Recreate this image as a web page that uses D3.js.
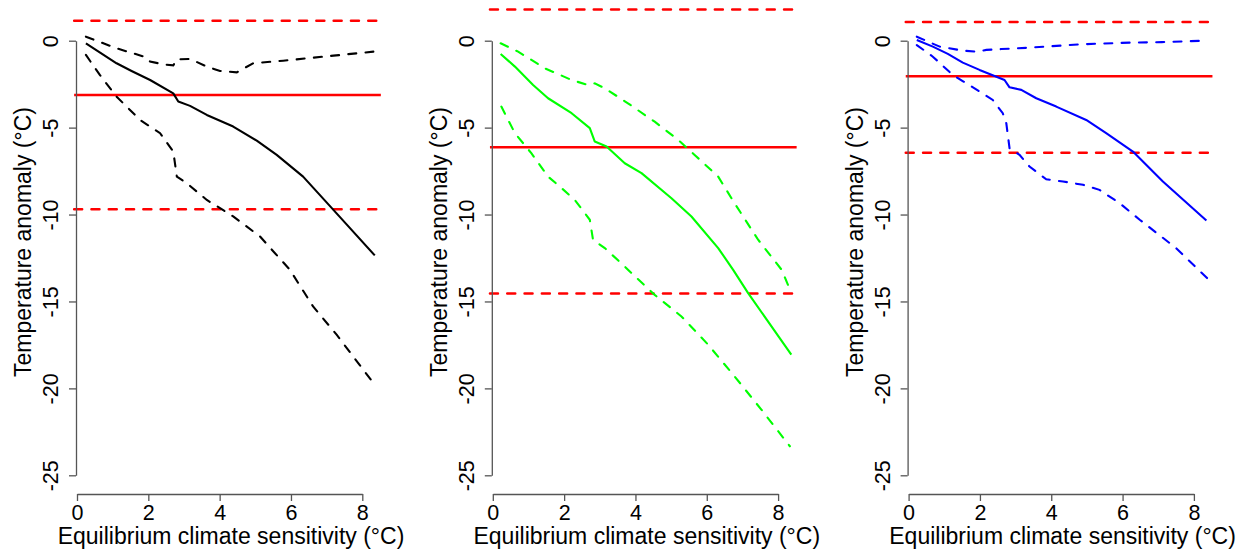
<!DOCTYPE html>
<html>
<head>
<meta charset="utf-8">
<script src="https://cdn.jsdelivr.net/npm/d3@7"></script>
<style>
  body { margin: 0; background: #fff; }
  svg text { font-family: "Liberation Sans", Arial, Helvetica, sans-serif; fill: #000; }
  .axis path, .axis line { stroke: #555; stroke-width: 1.3; }
</style>
</head>
<body>
<div id="chart"></div>
<script>
// --- data (x = ECS in degC, y = anomaly in degC)
var xTicks = [0, 2, 4, 6, 8]
var yTicks = [0, -5, -10, -15, -20, -25]

var p1Mid = [[0.25,-0.15],[1.11,-1.30],[1.53,-1.74],[2.05,-2.26],[2.70,-3.03],[2.84,-3.50],[3.17,-3.75],
  [3.64,-4.27],[4.38,-4.94],[5.04,-5.75],[5.60,-6.57],[6.34,-7.82],[7.19,-9.73],[8.35,-12.35]]
var p1Hi = [[0.25,0.23],[1.11,-0.44],[1.95,-0.96],[2.05,-1.2],[2.42,-1.36],[2.70,-1.42],[2.80,-1.07],
  [3.17,-1.05],[3.64,-1.49],[4.01,-1.74],[4.48,-1.82],[4.94,-1.30],[5.78,-1.15],[7.19,-0.86],[8.31,-0.63]]
var p1Lo = [[0.25,-0.82],[0.64,-1.97],[1.11,-3.22],[1.77,-4.56],[2.33,-5.32],[2.70,-6.38],[2.80,-7.82],
  [3.08,-8.2],[3.64,-9.16],[4.38,-10.11],[5.13,-11.26],[5.97,-13.18],[6.62,-15.29],[7.28,-16.91],[8.31,-19.69]]

var p2Mid = [[0.22,-0.76],[0.62,-1.49],[1.13,-2.55],[1.55,-3.31],[2.21,-4.17],[2.72,-5.03],[2.86,-5.80],
  [3.19,-6.09],[3.70,-7.05],[4.17,-7.62],[5.01,-9.06],[5.57,-10.11],[6.32,-11.93],[6.74,-13.18],
  [7.16,-14.52],[8.37,-18.06]]
var p2Hi = [[0.22,-0.15],[0.71,-0.63],[1.46,-1.59],[2.21,-2.26],[2.67,-2.55],[2.86,-2.45],[3.14,-2.74],
  [3.79,-3.60],[4.54,-4.66],[5.20,-5.71],[5.66,-6.57],[6.32,-7.82],[6.78,-9.35],[7.44,-11.45],
  [8.10,-13.18],[8.33,-14.3]]
var p2Lo = [[0.24,-3.79],[0.62,-5.32],[1.08,-6.47],[1.55,-7.82],[1.93,-8.48],[2.30,-9.16],[2.72,-10.30],
  [2.81,-11.45],[3.14,-11.93],[3.70,-12.99],[3.89,-13.37],[4.54,-14.62],[5.29,-15.86],[6.04,-17.49],
  [6.78,-19.31],[7.53,-21.22],[8.33,-23.33]]

var p3Mid = [[0.23,0.04],[0.68,-0.34],[1.10,-0.76],[1.52,-1.26],[1.99,-1.68],[2.69,-2.26],[2.83,-2.68],
  [3.16,-2.83],[3.58,-3.31],[4.14,-3.79],[4.98,-4.56],[5.54,-5.32],[6.29,-6.38],[7.13,-8.10],[8.35,-10.34]]
var p3Hi = [[0.23,0.23],[0.87,-0.34],[1.52,-0.57],[1.90,-0.63],[2.18,-0.53],[2.6,-0.48],[3.39,-0.40],
  [4.79,-0.21],[6.20,-0.11],[7.1,-0.08],[8.30,0.0]]
var p3Lo = [[0.23,-0.25],[0.68,-0.92],[1.24,-1.97],[1.62,-2.45],[1.99,-2.93],[2.36,-3.41],[2.64,-4.17],
  [2.74,-4.75],[2.83,-6.18],[3.11,-6.57],[3.39,-7.24],[3.86,-7.97],[4.33,-8.10],[4.89,-8.29],[5.35,-8.58],
  [5.92,-9.35],[6.48,-10.30],[7.50,-11.93],[8.39,-13.70]]

// red reference lines: [upper dashed, solid, lower dashed]
var p1Ref = [1.15, -3.12, -9.69]
var p2Ref = [1.8, -6.13, -14.54]
var p3Ref = [1.07, -2.05, -6.45]
var refSpan = [-0.08, 8.52]

var panels = [
  { color: "#000000", mid: p1Mid, hi: p1Hi, lo: p1Lo, ref: p1Ref },
  { color: "#00ff00", mid: p2Mid, hi: p2Hi, lo: p2Lo, ref: p2Ref },
  { color: "#0000ff", mid: p3Mid, hi: p3Hi, lo: p3Lo, ref: p3Ref }
]

var width = 1251, height = 556
var svg = d3.select("#chart").append("svg")
  .attr("width", width)
  .attr("height", height)

panels.forEach(function(p, i) {
  var off = 415.8 * i
    , x = d3.scaleLinear().domain([0, 8]).range([77 + off, 362.3 + off])
    , y = d3.scaleLinear().domain([0, -25]).range([40.7, 475.3])
    , g = svg.append("g")

  var line = d3.line()
    .x(function(d) { return x(d[0]) })
    .y(function(d) { return y(d[1]) })

  // red reference lines
  p.ref.forEach(function(v, k) {
    g.append("line")
      .attr("x1", x(refSpan[0])).attr("x2", x(refSpan[1]))
      .attr("y1", y(v)).attr("y2", y(v))
      .attr("stroke", "#ff0000")
      .attr("stroke-width", 2.5)
      .attr("stroke-dasharray", k === 1 ? null : "8,9.3")
      .attr("stroke-linecap", k === 1 ? "butt" : "round")
  })

  // curves
  ;[p.hi, p.lo].forEach(function(s) {
    g.append("path").datum(s)
      .attr("fill", "none").attr("stroke", p.color).attr("stroke-width", 2.1)
      .attr("stroke-dasharray", "8,9.3").attr("stroke-linecap", "round")
      .attr("d", line)
  })
  g.append("path").datum(p.mid)
    .attr("fill", "none").attr("stroke", p.color).attr("stroke-width", 2.1)
    .attr("stroke-linejoin", "round")
    .attr("d", line)

  // axes
  var ax = g.append("g").attr("class", "axis")
    .attr("transform", "translate(0,494)")
    .call(d3.axisBottom(x).tickValues(xTicks).tickSize(7).tickSizeOuter(0).tickFormat(d3.format("d")))
  ax.selectAll("text").attr("y", 25.5).attr("dy", null).style("font-size", "21.5px")

  var ay = g.append("g").attr("class", "axis")
    .attr("transform", "translate(" + (x(0) - 1) + ",0)")
    .call(d3.axisLeft(y).tickValues(yTicks).tickSize(7).tickSizeOuter(0).tickFormat(d3.format("d")))
  ay.selectAll("text")
    .attr("transform", "rotate(-90)")
    .attr("x", 0).attr("y", -18).attr("dy", null)
    .attr("text-anchor", "middle")
    .style("font-size", "21.5px")
  ay.selectAll("text").text(function(d) { return String(d) })
  ay.select(".domain").attr("fill", "none")
  ax.select(".domain").attr("fill", "none")

  // axis titles
  g.append("text")
    .attr("x", x(0) + 154).attr("y", 544)
    .attr("text-anchor", "middle")
    .style("font-size", "23px")
    .text("Equilibrium climate sensitivity (\u00b0C)")

  g.append("text")
    .attr("transform", "translate(" + (x(0) - 46) + ",242) rotate(-90)")
    .attr("text-anchor", "middle")
    .style("font-size", "23px")
    .text("Temperature anomaly (\u00b0C)")
})
</script>
</body>
</html>
